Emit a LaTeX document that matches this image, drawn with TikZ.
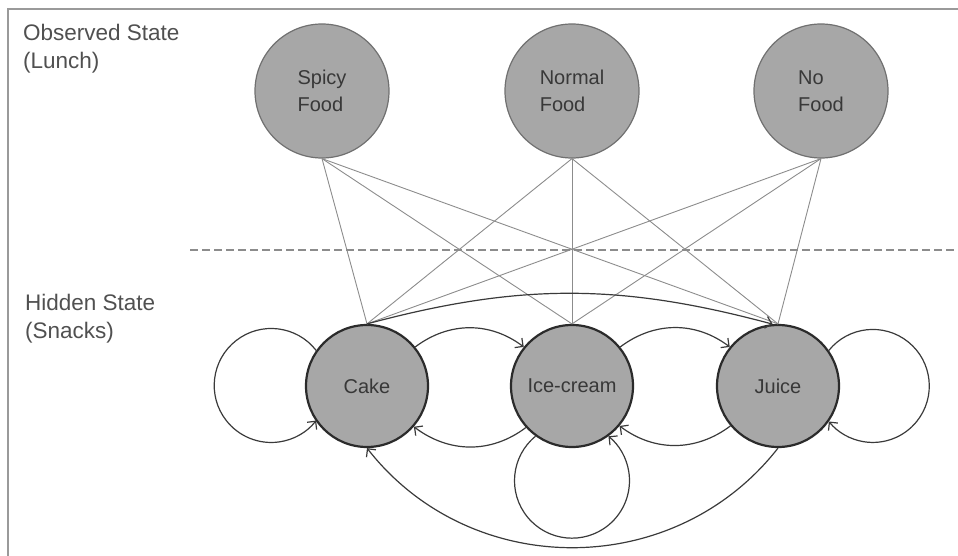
\documentclass[tikz,border=0pt]{standalone}
\usepackage{fontspec}
\setmainfont{Liberation Sans}
\usetikzlibrary{arrows.meta}
\definecolor{nodefill}{HTML}{A7A7A7}
\definecolor{obsborder}{HTML}{707070}
\definecolor{hidborder}{HTML}{2B2B2B}
\definecolor{txt}{HTML}{383838}
\definecolor{lblgray}{HTML}{505050}
\definecolor{linegray}{HTML}{8C8C8C}
\definecolor{arrgray}{HTML}{3A3A3A}
\definecolor{framegray}{HTML}{9A9A9A}
\begin{document}
\begin{tikzpicture}[x=1pt,y=1pt,
  obs/.style={circle, minimum size=134pt, inner sep=0pt, fill=nodefill, draw=obsborder,
    line width=1.2pt, align=left, font=\fontsize{20}{27}\selectfont, text=txt},
  hid/.style={circle, minimum size=122pt, inner sep=0pt, fill=nodefill, draw=hidborder,
    line width=2.2pt, font=\fontsize{20}{24}\selectfont, text=txt},
  emis/.style={draw=linegray, line width=0.9pt},
  trans/.style={draw=arrgray, line width=1.2pt, -{Straight Barb[length=6pt,width=12pt]}},
  lbl/.style={anchor=north west, align=left, inner sep=0pt,
    font=\fontsize{22.5}{28}\selectfont, text=lblgray}]
\useasboundingbox (0,0) rectangle (958,-556);
% frame
\draw[framegray, line width=1.2pt] (8,-556) -- (8,-9) -- (958,-9);
% labels
\node[lbl] (obslbl) at (23,-24) {Observed State\\(Lunch)};
\node[lbl] (hidlbl) at (25,-294) {Hidden State\\(Snacks)};
% dashed separator
\coordinate (dashL) at (190,-250);
\coordinate (dashR) at (958,-250);
\draw[linegray, line width=1.3pt, dash pattern=on 8pt off 4pt] (dashL) -- (dashR);
% positions
\coordinate (spicyp) at (322,-91);
\coordinate (normalp) at (572,-91);
\coordinate (nofoodp) at (821,-91);
\coordinate (cakep) at (367,-386);
\coordinate (icep) at (572,-386);
\coordinate (juicep) at (778,-386);
% observed states
\node[obs] (spicy) at (spicyp) {Spicy\\Food};
\node[obs] (normal) at (normalp) {Normal\\Food};
\node[obs] (nofood) at (nofoodp) {No\\Food};
% hidden states
\node[hid] (cake) at (cakep) {Cake};
\node[hid] (ice) at (icep) {Ice-cream};
\node[hid] (juice) at (juicep) {Juice};
% emissions
\foreach \o in {spicy,normal,nofood}{
  \foreach \h in {cake,ice,juice}{
    \draw[emis] (\o.south) -- (\h.north);
  }
}
% transitions between neighbours
\draw[trans] (cake.39) to[out=37,in=143] (ice.141);
\draw[trans] (ice.39) to[out=37,in=143] (juice.141);
\draw[trans] (ice.222) to[out=217,in=-37] (cake.319);
\draw[trans] (juice.220) to[out=217,in=-37] (ice.320);
% long transitions
\draw[trans] (cake.north) to[out=15,in=165] (juice.95);
\draw[trans] (juice.south) to[out=232,in=-52,looseness=1.05] (cake.south);
% self loops
\draw[trans] (cake.145) arc[start angle=38, end angle=322, radius=57];
\draw[trans] (ice.234) arc[start angle=129.4, end angle=410.6, radius=57.5];
\draw[trans] (juice.35) arc[start angle=141, end angle=-141, radius=56.5];
\end{tikzpicture}
\end{document}
